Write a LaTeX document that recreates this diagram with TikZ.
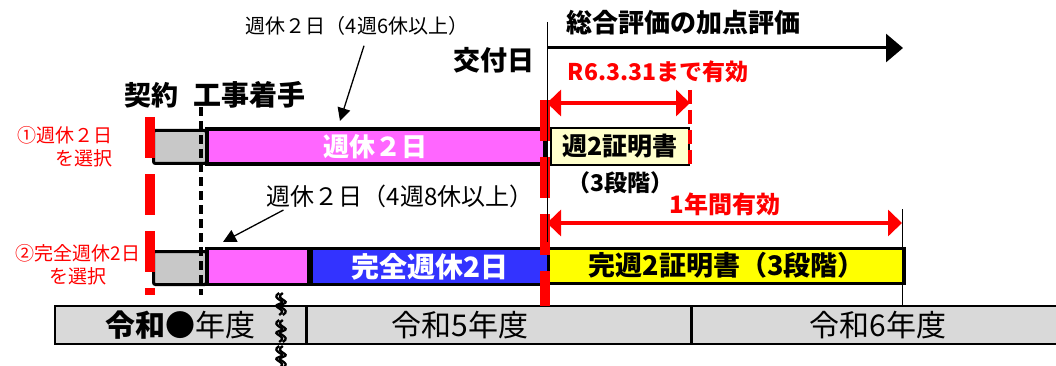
\documentclass[tikz,border=0pt]{standalone}
\usepackage{fontspec}
\setmainfont{Noto Sans CJK JP}
\usepackage{xcolor}
\usepackage{tikz}
\usetikzlibrary{arrows.meta,positioning}
\definecolor{selred}{RGB}{255,0,0}
\definecolor{wkpink}{RGB}{255,102,255}
\definecolor{fullblue}{RGB}{51,51,255}
\definecolor{boxgray}{RGB}{200,200,200}
\definecolor{yeargray}{RGB}{217,217,217}
\definecolor{certcream}{RGB}{255,255,204}
\definecolor{certyellow}{RGB}{255,255,0}

\begin{document}
\begin{tikzpicture}[x=1pt, y=-1pt, >=Latex]
\tikzstyle{bar}=[draw, line width=3.5pt, inner sep=0pt, minimum height=35pt, anchor=west, font=\bfseries\fontsize{26}{26}\selectfont]
\tikzstyle{pre}=[draw, line width=3pt, rounded corners=2pt, fill=boxgray, inner sep=0pt, minimum width=53pt, minimum height=33pt, anchor=west]
\tikzstyle{head}=[font=\bfseries\fontsize{27}{27}\selectfont, inner sep=0pt]
\tikzstyle{note}=[font=\fontsize{20}{20}\selectfont, inner sep=0pt]
\tikzstyle{pick}=[text=selred, font=\fontsize{19}{23}\selectfont, inner sep=0pt]
\tikzstyle{yr}=[draw, line width=1.5pt, fill=yeargray, inner sep=0pt, minimum height=38pt, anchor=west, font=\fontsize{30}{30}\selectfont]
\tikzstyle{span}=[selred, line width=4pt, {Triangle[length=14pt,width=26pt]}-{Triangle[length=14pt,width=26pt]}]
\tikzstyle{redmark}=[selred, line width=10pt, dash pattern=on 41pt off 16pt]
\tikzstyle{ptr}=[line width=1.3pt, -{Triangle[length=13pt,width=13pt]}]
\useasboundingbox (0,0) rectangle (1056,366);

% headings
\node[head] (sign) at (151,95) {契約};
\node[head, font=\bfseries\fontsize{28}{28}\selectfont] (start) at (249,95) {工事着手};
\node[head] (issue) at (494,60) {交付日};
\node[head, font=\bfseries\fontsize{26}{26}\selectfont] (bonus) at (683,23) {総合評価の加点評価};
\node[head, text=selred, font=\bfseries\fontsize{23}{23}\selectfont] (valid1) at (658,72) {R6.3.31まで有効};
\node[head, text=selred, font=\bfseries\fontsize{24}{24}\selectfont] (valid2) at (725,204) {1年間有効};

% row 1
\node[pick, align=right] (opt1) at (65,147) {①週休２日\\を選択};
\node[pre] (pre1) at (152,147) {};
\node[bar, fill=wkpink, text=white, minimum width=338pt] (wk1) at (205,146.5) {週休２日};
\node[bar, fill=certcream, line width=2pt, minimum width=138pt, minimum height=37pt, font=\bfseries\fontsize{25}{25}\selectfont] (cert1) at (550,146.5) {週2証明書};
\node[head, font=\bfseries\fontsize{23}{23}\selectfont, below=5pt of cert1] (cert1b) {（3段階）};
\node[note] (note6) at (357,26) {週休２日（4週6休以上）};
\coordinate (tip6) at (340,121);
\draw[ptr] ([xshift=7pt,yshift=-10pt]note6.south) -- (tip6);

% row 2
\node[pick, align=center] (opt2) at (78,265) {②完全週休2日\\を選択};
\node[pre] (pre2) at (152,268) {};
\node[bar, fill=wkpink, minimum width=102pt, minimum height=36pt] (wk2) at (205,266.5) {};
\node[bar, fill=fullblue, text=white, minimum width=237pt, minimum height=36pt, right=-1pt of wk2, font=\bfseries\fontsize{28}{28}\selectfont] (full2) {完全週休2日};
\node[bar, fill=certyellow, line width=3pt, minimum width=356pt, font=\bfseries\fontsize{27}{27}\selectfont] (cert2) at (547,265.5) {完週2証明書（3段階）};
\node[note, font=\fontsize{24}{24}\selectfont] (note8) at (400,196) {週休２日（4週8休以上）};
\coordinate (tip8) at (223,242);
\draw[ptr] ([xshift=17pt,yshift=-14pt]note8.west) -- (tip8);

% fiscal years
\node[yr, minimum width=251pt] (yr0) at (54,325) {{\bfseries 令和●}年度};
\node[yr, minimum width=383pt, right=0pt of yr0] (yr5) {\hspace*{-78pt}令和5年度};
\node[yr, minimum width=372pt, right=0pt of yr5] (yr6) {令和6年度};
\foreach \y in {293,320,346}
  \foreach \dx in {-1.8,1.8}
    \draw[line width=2.3pt] (281+\dx,\y) .. controls (271+\dx,\y+6) and (291+\dx,\y+8) .. (281+\dx,\y+11) .. controls (271+\dx,\y+14) and (291+\dx,\y+16) .. (281+\dx,\y+22);

% markers
\draw[redmark] (150,117) -- (150,295);
\draw[line width=3.5pt, dash pattern=on 9pt off 5pt] (201,107) -- (201,295);
\draw[redmark] (545,100) -- (545,306);
\draw[selred, line width=4pt, dash pattern=on 14pt off 6pt] (690,90) -- (690,168);
\coordinate (evS) at (547,48); \coordinate (evE) at (903,48);
\draw[line width=3pt, -{Triangle[length=17pt,width=28pt]}] (evS) -- (evE);
\coordinate (v1S) at (547,103); \coordinate (v1E) at (690,103);
\draw[span] (v1S) -- (v1E);
\coordinate (v2S) at (547,223); \coordinate (v2E) at (902,223);
\draw[span] (v2S) -- (v2E);
\draw[line width=1pt] (547,22) -- (547,242);
\draw[line width=1pt] (902,209) -- (yr6.north -| 902,0);
\end{tikzpicture}
\end{document}
